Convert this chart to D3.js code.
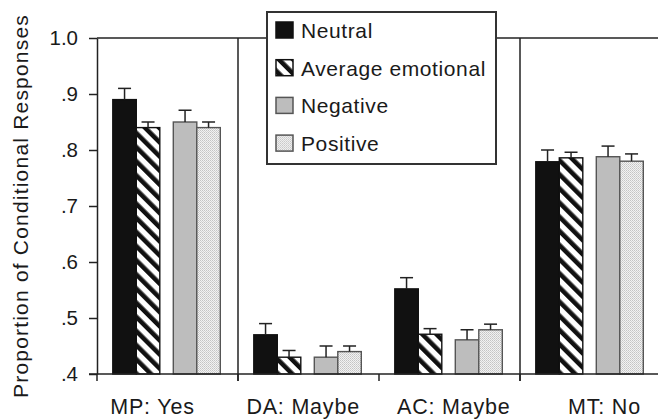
<!DOCTYPE html>
<meta charset="utf-8">
<html>
<head>
    <title>Conditional responses</title>
</head>
<style type="text/css">
    body{ margin: 0; background: #fff; }
    text{
        font-family: "Liberation Sans", Arial, Helvetica, sans-serif;
        fill: #1a1a1a;
    }
</style>
<script src="https://cdn.jsdelivr.net/npm/d3@7"></script>
<body>

<script type="text/javascript">
// values
var categories = ["MP: Yes", "DA: Maybe", "AC: Maybe", "MT: No"]
var conditions = ["Neutral", "Average emotional", "Negative", "Positive"]
var neutral  = [0.890, 0.470, 0.552, 0.779]
var average  = [0.840, 0.430, 0.471, 0.786]
var negative = [0.850, 0.430, 0.461, 0.788]
var positive = [0.840, 0.440, 0.479, 0.780]
var neutralErr  = [0.020, 0.020, 0.020, 0.021]
var averageErr  = [0.010, 0.012, 0.010, 0.010]
var negativeErr = [0.021, 0.020, 0.018, 0.019]
var positiveErr = [0.010, 0.010, 0.010, 0.013]
var yTicks = [0.4, 0.5, 0.6, 0.7, 0.8, 0.9, 1.0]
var yTickLabels = [".4", ".5", ".6", ".7", ".8", ".9", "1.0"]

var series = [neutral, average, negative, positive]
var errors = [neutralErr, averageErr, negativeErr, positiveErr]
var fills = ["#111", "url(#hatch)", "#bdbdbd", "url(#dots)"]
var strokes = ["#111", "#111", "#555", "#555"]

var svgWidth = 658
var svgHeight = 420

var svg = d3.select("body")
    .append("svg")
    .attr("width", svgWidth)
    .attr("height", svgHeight)

var defs = svg.append("defs")
var hatch = defs.append("pattern")
    .attr("id", "hatch")
    .attr("patternUnits", "userSpaceOnUse")
    .attr("width", 10).attr("height", 10)
    .attr("patternTransform", "rotate(-45)")
hatch.append("rect").attr("width", 10).attr("height", 10).attr("fill", "#fff")
hatch.append("rect").attr("width", 4.6).attr("height", 10).attr("fill", "#111")

var dots = defs.append("pattern")
    .attr("id", "dots")
    .attr("patternUnits", "userSpaceOnUse")
    .attr("width", 2).attr("height", 2)
dots.append("rect").attr("width", 2).attr("height", 2).attr("fill", "#f2f2f2")
dots.append("rect").attr("width", 1).attr("height", 1).attr("fill", "#c4c4c4")
dots.append("rect").attr("x", 1).attr("y", 1).attr("width", 1).attr("height", 1).attr("fill", "#d2d2d2")

var x = d3.scaleBand().domain(categories).range([97, 661])
var y = d3.scaleLinear().domain([0.4, 1.0]).range([374, 38])
var labelX = d3.scalePoint().domain(categories).range([152.5, 604.5])

var barW = 23.5, pairGap = 13.5, padL = 15.8
function barOffset(i){ return padL + i * barW + (i >= 2 ? pairGap : 0) }

// frame: top line, dividers, axes
svg.append("line")
    .attr("x1", 97).attr("x2", 661)
    .attr("y1", y(1.0)).attr("y2", y(1.0))
    .attr("stroke", "#222").attr("stroke-width", 1.5)

svg.selectAll(".divider")
    .data([categories[1], categories[3]])
    .enter().append("line")
    .attr("class", "divider")
    .attr("x1", d => x(d)).attr("x2", d => x(d))
    .attr("y1", y(1.0)).attr("y2", 381)
    .attr("stroke", "#222").attr("stroke-width", 1.5)

var g = svg.append("g")

categories.forEach((c, ci) => {
    series.forEach((s, si) => {
        var bx = x(c) + barOffset(si)
        g.append("rect")
            .attr("class", "bar")
            .attr("x", bx)
            .attr("y", y(s[ci]))
            .attr("width", barW)
            .attr("height", y(0.4) - y(s[ci]))
            .attr("fill", fills[si])
            .attr("stroke", strokes[si])
            .attr("stroke-width", 1.4)
        var top = s[ci] + errors[si][ci]
        var cx = bx + barW / 2
        g.append("line")
            .attr("x1", cx).attr("x2", cx)
            .attr("y1", y(s[ci])).attr("y2", y(top))
            .attr("stroke", "#222").attr("stroke-width", 1.5)
        g.append("line")
            .attr("x1", cx - 6.5).attr("x2", cx + 6.5)
            .attr("y1", y(top)).attr("y2", y(top))
            .attr("stroke", "#222").attr("stroke-width", 1.5)
    })
})

var yAxis = d3.axisLeft(y)
    .tickValues(yTicks)
    .tickFormat((d, i) => yTickLabels[i])
    .tickSize(8)
    .tickSizeOuter(0)
    .tickPadding(11)
var ya = svg.append("g")
    .attr("transform", "translate(97,0)")
    .call(yAxis)
ya.select(".domain").attr("stroke", "#222").attr("stroke-width", 1.5)
ya.selectAll(".tick line").attr("stroke", "#222").attr("stroke-width", 1.5)
ya.selectAll(".tick text")
    .attr("font-size", 20.5)
    .attr("font-family", "Liberation Sans, Arial, sans-serif")
    .attr("fill", "#1a1a1a")

// bottom axis with ticks at category boundaries
svg.append("line")
    .attr("x1", 89).attr("x2", 661)
    .attr("y1", y(0.4)).attr("y2", y(0.4))
    .attr("stroke", "#222").attr("stroke-width", 1.5)
svg.selectAll(".xtick")
    .data(categories.concat(["end"]))
    .enter().append("line")
    .attr("class", "xtick")
    .attr("x1", (d, i) => i < categories.length ? x(d) : x(categories[3]) + x.bandwidth())
    .attr("x2", (d, i) => i < categories.length ? x(d) : x(categories[3]) + x.bandwidth())
    .attr("y1", y(0.4)).attr("y2", 381)
    .attr("stroke", "#222").attr("stroke-width", 1.5)

svg.selectAll(".xlabel")
    .data(categories)
    .enter().append("text")
    .attr("class", "xlabel")
    .attr("x", d => labelX(d))
    .attr("y", 414)
    .attr("text-anchor", "middle")
    .attr("font-size", 21.5)
    .attr("letter-spacing", 0.8)
    .text(d => d)

svg.append("text")
    .attr("transform", "translate(28,206) rotate(-90)")
    .attr("text-anchor", "middle")
    .attr("font-size", 21)
    .attr("letter-spacing", 1.2)
    .text("Proportion of Conditional Responses")

// legend
var legend = svg.append("g")
legend.append("rect")
    .attr("x", 267).attr("y", 12)
    .attr("width", 229).attr("height", 152)
    .attr("fill", "#fff")
    .attr("stroke", "#333").attr("stroke-width", 2)
var item = legend.selectAll(".item")
    .data(conditions)
    .enter().append("g")
    .attr("class", "item")
    .attr("transform", (d, i) => "translate(276," + (22 + i * 37.7) + ")")
item.append("rect")
    .attr("width", 17).attr("height", 16)
    .attr("fill", (d, i) => fills[i])
    .attr("stroke", (d, i) => strokes[i])
    .attr("stroke-width", 1.5)
item.append("text")
    .attr("x", 25).attr("y", 16)
    .attr("font-size", 21)
    .attr("letter-spacing", 0.6)
    .text(d => d)
</script>
</body>
</html>
